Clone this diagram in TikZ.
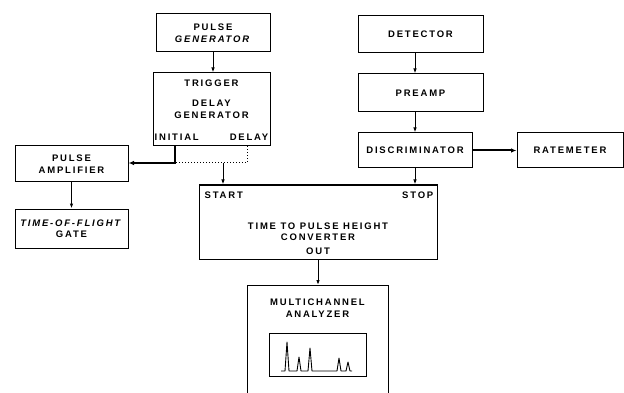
\documentclass[tikz,border=0pt]{standalone}
\usepackage{fontspec}
\newfontfamily\blkfont[LetterSpace=19]{Liberation Sans}
\usetikzlibrary{arrows.meta, positioning}

\newcommand{\lbltext}{\blkfont\bfseries\fontsize{9.5}{11.5}\selectfont}
\tikzset{
  blk/.style={draw, line width=1pt, inner sep=0pt, align=center, font=\lbltext},
  txt/.style={inner sep=0pt, align=center, font=\lbltext},
  sig/.style={line width=1pt, -{Latex[length=5pt,width=3.5pt]}},
  hvy/.style={line width=2pt, -{Latex[length=5.5pt,width=4.5pt]}},
  dots/.style={line width=1pt, dotted}
}

\begin{document}
\begin{tikzpicture}[x=1pt, y=-1pt]
  \useasboundingbox (0,0) rectangle (624,393);
  \clip (0,0) rectangle (624,393);
  % Generator side
  \node[blk, minimum width=114pt, minimum height=38pt] (pgen) at (213,33) {PULSE\\\textit{GENERATOR}};
  \node[blk, minimum width=117pt, minimum height=73pt] (dgen) at (211.5,109.5) {DELAY\\GENERATOR};
  \node[txt, below=7pt of dgen.north] (trig) {TRIGGER};
  \node[txt, anchor=south west] (init) at ([shift={(2pt,5.5pt)}]dgen.south west) {INITIAL};
  \node[txt, anchor=south east] (dly) at ([shift={(-2pt,5.5pt)}]dgen.south east) {DELAY};
  \node[blk, minimum width=113pt, minimum height=36pt] (amp) at (71.5,164) {PULSE\\AMPLIFIER};
  \node[blk, minimum width=113pt, minimum height=39pt] (tof) at (71.5,228.5) {\textit{TIME-OF-FLIGHT}\\GATE};
  % Detector side
  \node[blk, minimum width=125pt, minimum height=37pt] (det) at (420.5,34.5) {DETECTOR};
  \node[blk, minimum width=125pt, minimum height=38pt] (pre) at (420.5,93) {PREAMP};
  \node[blk, minimum width=114pt, minimum height=35pt] (disc) at (415,150.5) {DISCRIMINATOR};
  \node[blk, minimum width=106pt, minimum height=35pt] (rate) at (570,150.5) {RATEMETER};
  % Converter
  \node[blk, minimum width=238pt, minimum height=74pt] (tphc) at (318,222) {};
  \node[txt, anchor=north west] (start) at ([shift={(6pt,-7.5pt)}]tphc.north west) {START};
  \node[txt, anchor=north east] (stop) at ([shift={(-4pt,-7.5pt)}]tphc.north east) {STOP};
  \node[txt] (conv) at ([yshift=-9.5pt]tphc.center) {TIME TO PULSE HEIGHT\\CONVERTER};
  \node[txt, anchor=south] (out) at ([yshift=4.5pt]tphc.south) {OUT};
  % Analyzer
  \node[blk, minimum width=141pt, minimum height=140pt, anchor=north] (mca) at (317.5,285) {};
  \node[txt, anchor=north] (mcatxt) at ([yshift=-14pt]mca.north) {MULTICHANNEL\\ANALYZER};
  \node[draw, line width=1pt, minimum width=97pt, minimum height=43pt] (scr) at (317.5,354.5) {};
  \draw[line width=0.9pt, line join=round] (281,371) -- (285,371) -- (287,342) -- (289,371)
    -- (297,371) -- (299,357) -- (301,371) -- (308,371) -- (310,348) -- (312,371)
    -- (337,371) -- (339,358) -- (341,371) -- (346,371) -- (348,362) -- (350,371) -- (352,371);
  % Connections
  \coordinate (jn) at (175,163);
  \coordinate (dl) at (247,163);
  \coordinate (st) at (223,163);
  \draw[sig] (pgen.south) -- (pgen.south |- dgen.north);
  \draw[dots] (dgen.south -| dl) -- (dl) -- (jn);
  \draw[hvy] (dgen.south -| jn) -- (jn) -- (amp.east |- jn);
  \draw[sig] (st) -- (st |- tphc.north);
  \draw[sig] (amp) -- (tof);
  \draw[sig] (det.south -| disc.north) -- (pre.north -| disc.north);
  \draw[sig] (pre.south -| disc.north) -- (disc.north);
  \draw[sig] (disc.south) -- (disc.south |- tphc.north);
  \draw[hvy] (disc.east) -- (rate.west);
  \draw[sig] (tphc.south) -- (tphc.south |- mca.north);
\end{tikzpicture}
\end{document}
